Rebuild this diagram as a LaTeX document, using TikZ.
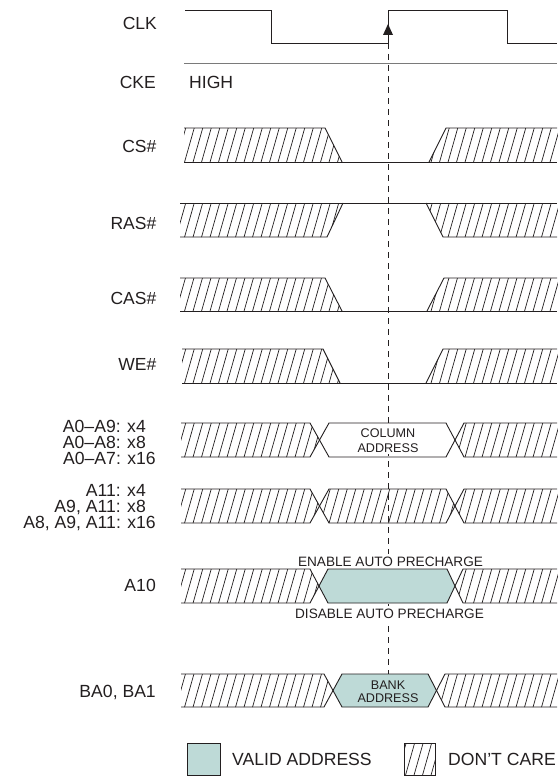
\documentclass[tikz,border=0pt]{standalone}
\usepackage{fontspec}
\setmainfont{Liberation Sans}
\definecolor{ink}{HTML}{231F20}
\definecolor{valid}{RGB}{190,218,215}
\definecolor{ckegray}{HTML}{7A7A7A}
\tikzset{
 sig/.style={draw=ink, line width=0.9pt, line join=miter},
 hatchln/.style={draw=ink, line width=0.7pt},
 lbl/.style={anchor=base east, inner sep=0pt, text=ink, font=\fontsize{17.5}{17.5}\selectfont},
 albl/.style={anchor=base east, inner sep=0pt, text=ink, font=\fontsize{17.6}{17.6}\selectfont},
 smalltxt/.style={anchor=base, inner xsep=1.5pt, inner ysep=3pt, fill=white, text=ink, font=\fontsize{13.6}{13.6}\selectfont},
 boxtxt/.style={inner sep=1pt, text=ink, align=center},
 validbox/.style={fill=valid, draw=ink, line width=0.9pt},
 clkdash/.style={draw=ink, line width=0.8pt, dash pattern=on 6pt off 5pt},
 legendtxt/.style={anchor=base west, inner sep=0pt, text=ink, font=\fontsize{17.6}{17.6}\selectfont},
}
\newcommand\hatchreg[3]{%
 \begin{scope}
 \clip #1;
 \foreach \hx in {150,158.5,...,580}{\draw[hatchln] (\hx,#3+2) -- (\hx+0.3*#3-0.3*#2+0.6,#2-2);}
 \end{scope}}
\begin{document}
\begin{tikzpicture}[x=1pt,y=-1pt]
\useasboundingbox (0,0) rectangle (557,776);
\fill[white] (0,0) rectangle (557,776);

% dashed reference line
\coordinate (dtop) at (388,43);
\coordinate (dbot) at (388,674);
\draw[clkdash] (dtop) -- (dbot);

% labels
\node[lbl] (lclk) at (157,29.5) {CLK};
\node[lbl] (lcke) at (156,88.5) {CKE};
\node[lbl] (lcs) at (156.5,152) {CS\#};
\node[lbl] (lras) at (156.5,229) {RAS\#};
\node[lbl] (lcas) at (156.5,304) {CAS\#};
\node[lbl] (lwe) at (156.5,370) {WE\#};
\node[albl] (la1) at (146,432.5) {A0–A9: x4};
\node[albl] (la2) at (146,448.5) {A0–A8: x8};
\node[albl] (la3) at (156,464.5) {A0–A7: x16};
\node[albl] (lb1) at (146,496) {A11: x4};
\node[albl] (lb2) at (146,512) {A9, A11: x8};
\node[albl] (lb3) at (156,528) {A8, A9, A11: x16};
\node[albl] (la10) at (156,591.5) {A10};
\node[albl] (lba) at (156,697) {BA0, BA1};

% CLK
\draw[sig] (185,10.5) -- (271,10.5) -- (271,43) -- (388,43) -- (388,10.5) -- (507,10.5) -- (507,43) -- (557,43);
\fill[ink] (388,24) -- (383,35) -- (393,35) -- cycle;

% CKE
\draw[draw=ckegray, line width=1.3pt] (184,63.5) -- (557,63.5);
\node[legendtxt] (high) at (189,88.5) {HIGH};

% CS#
\hatchreg{(184,128)--(325,128)--(342,162)--(184,162)--cycle}{128}{162}
\hatchreg{(429,162)--(446,128)--(560,128)--(560,162)--cycle}{128}{162}
\draw[sig] (184,128)--(325,128)--(342,162);
\draw[sig] (184,162)--(557,162);
\draw[sig] (429,162)--(446,128)--(557,128);

% RAS#
\hatchreg{(180,203)--(343,203)--(327,237)--(180,237)--cycle}{203}{237}
\hatchreg{(426,203)--(560,203)--(560,237)--(443,237)--cycle}{203}{237}
\draw[sig] (180,203)--(557,203);
\draw[sig] (180,237)--(327,237)--(343,203);
\draw[sig] (426,203)--(443,237)--(557,237);

% CAS#
\hatchreg{(180,278)--(325,278)--(342,311)--(180,311)--cycle}{278}{311}
\hatchreg{(427,311)--(444,278)--(560,278)--(560,311)--cycle}{278}{311}
\draw[sig] (180,278)--(325,278)--(342,311);
\draw[sig] (180,311)--(557,311);
\draw[sig] (427,311)--(444,278)--(557,278);

% WE#
\hatchreg{(182,349)--(323,349)--(340,383)--(182,383)--cycle}{349}{383}
\hatchreg{(426,383)--(443,349)--(560,349)--(560,383)--cycle}{349}{383}
\draw[sig] (182,349)--(323,349)--(340,383);
\draw[sig] (182,383)--(557,383);
\draw[sig] (426,383)--(443,349)--(557,349);

% A0-A9 row
\hatchreg{(181,423)--(310,423)--(319.5,440)--(310,457)--(181,457)--cycle}{423}{457}
\hatchreg{(455,440)--(464,423)--(560,423)--(560,457)--(464,457)--cycle}{423}{457}
\draw[sig] (181,423)--(310,423)--(329,457)--(446,457)--(464,423)--(557,423);
\draw[sig] (181,457)--(310,457)--(329,423)--(446,423)--(464,457)--(557,457);
\node[boxtxt, fill=white, font=\fontsize{12.6}{15}\selectfont] (coltxt) at (388,441) {COLUMN\\ADDRESS};

% A11 row
\hatchreg{(181,489)--(310,489)--(319.5,506)--(310,523)--(181,523)--cycle}{489}{523}
\hatchreg{(319.5,506)--(329,489)--(446,489)--(455,506)--(446,523)--(329,523)--cycle}{489}{523}
\hatchreg{(455,506)--(464,489)--(560,489)--(560,523)--(464,523)--cycle}{489}{523}
\draw[sig] (181,489)--(310,489)--(329,523)--(446,523)--(464,489)--(557,489);
\draw[sig] (181,523)--(310,523)--(329,489)--(446,489)--(464,523)--(557,523);

% A10 row
\hatchreg{(181,569)--(310,569)--(319,586)--(310,603)--(181,603)--cycle}{569}{603}
\hatchreg{(455,586)--(463,569)--(560,569)--(560,603)--(463,603)--cycle}{569}{603}
\fill[valid] (319,586)--(328,569)--(447,569)--(455,586)--(447,603)--(328,603)--cycle;
\node[smalltxt] (entxt) at (390.5,566) {ENABLE AUTO PRECHARGE};
\node[smalltxt] (distxt) at (389.5,618) {DISABLE AUTO PRECHARGE};
\draw[sig] (181,569)--(310,569)--(328,603)--(447,603)--(463,569)--(557,569);
\draw[sig] (181,603)--(310,603)--(328,569)--(447,569)--(463,603)--(557,603);

% BA row
\hatchreg{(181,674)--(324,674)--(333,690.5)--(324,707)--(181,707)--cycle}{674}{707}
\hatchreg{(436.5,690.5)--(445,674)--(560,674)--(560,707)--(445,707)--cycle}{674}{707}
\fill[valid] (333,690.5)--(342,674)--(428,674)--(436.5,690.5)--(428,707)--(342,707)--cycle;
\draw[sig] (181,674)--(324,674)--(342,707)--(428,707)--(445,674)--(557,674);
\draw[sig] (181,707)--(324,707)--(342,674)--(428,674)--(445,707)--(557,707);
\node[boxtxt, font=\fontsize{12.6}{13}\selectfont] (banktxt) at (388,692) {BANK\\ADDRESS};

% legend
\draw[validbox] (187,743) rectangle (220,775);
\node[legendtxt] (validtxt) at (232,765.5) {VALID ADDRESS};
\hatchreg{(404,743) rectangle (435,775)}{743}{775}
\draw[sig] (404,743) rectangle (435,775);
\node[legendtxt] (dctxt) at (448,765.5) {DON'T CARE};
\end{tikzpicture}
\end{document}
